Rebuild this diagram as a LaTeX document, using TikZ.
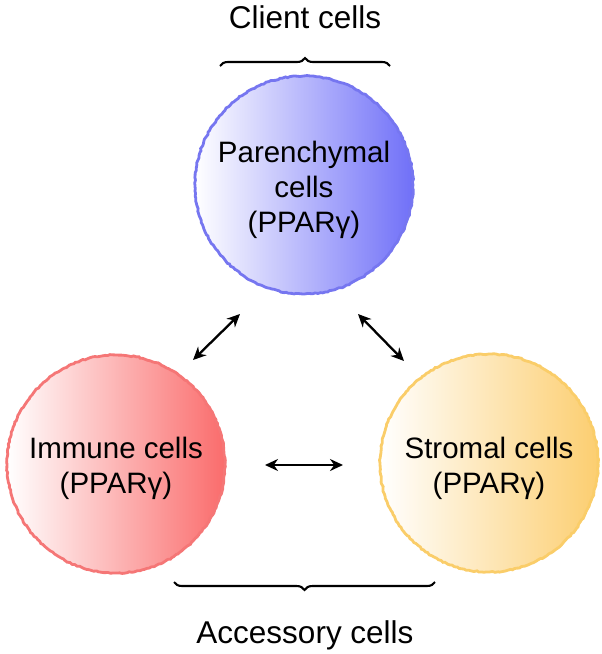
\documentclass[tikz,border=0pt]{standalone}
\usepackage{fontspec}
\setmainfont{Liberation Sans}
\usetikzlibrary{arrows.meta,decorations.pathreplacing,decorations.pathmorphing,shadings}
\definecolor{bluefill}{RGB}{112,112,248}
\definecolor{blueedge}{RGB}{118,118,240}
\definecolor{redfill}{RGB}{250,108,108}
\definecolor{rededge}{RGB}{245,118,118}
\definecolor{yelfill}{RGB}{252,206,112}
\definecolor{yeledge}{RGB}{250,205,105}
\tikzset{
  cell/.style={circle, minimum size=218pt, inner sep=0pt},
  rim/.style={decorate, decoration={random steps, segment length=2.5pt, amplitude=0.6pt}, line width=2.8pt},
  ctext/.style={align=center, inner sep=0pt, font=\fontsize{29.5}{35}\selectfont},
  lbl/.style={font=\fontsize{31.5}{36}\selectfont, inner sep=0pt, anchor=base},
  dbl/.style={{Stealth[length=13pt,width=12pt]}-{Stealth[length=13pt,width=12pt]}, line width=2.3pt},
  brk/.style={decorate, decoration={brace, amplitude=8pt}, line width=2.1pt}
}
\begin{document}
\begin{tikzpicture}[x=1pt,y=-1pt]
\useasboundingbox (0,0) rectangle (602,654);
\node[cell, left color=white, right color=bluefill] (top) at (304,185) {};
\node[cell, left color=white, right color=redfill] (left) at (116,464) {};
\node[cell, left color=white, right color=yelfill] (right) at (489,463) {};
\draw[rim, blueedge] (top.center) circle[radius=109];
\draw[rim, rededge] (left.center) circle[radius=109];
\draw[rim, yeledge] (right.center) circle[radius=109];
\node[ctext] (toptext) at (304,190) {Parenchymal\\cells\\(PPARγ)};
\node[ctext] (lefttext) at (116,468) {Immune cells\\(PPARγ)};
\node[ctext] (righttext) at (489,468) {Stromal cells\\(PPARγ)};
\node[lbl] (client) at (305,28) {Client cells};
\node[lbl] (acc) at (305,643) {Accessory cells};
\coordinate (b1) at (220,66);
\coordinate (b2) at (390,66);
\coordinate (c1) at (435,582);
\coordinate (c2) at (174,582);
\draw[brk] (b1) -- (b2);
\draw[brk] (c1) -- (c2);
\coordinate (a1) at (240,314);
\coordinate (a2) at (193,360);
\coordinate (a3) at (358,314);
\coordinate (a4) at (404,361);
\coordinate (a5) at (265,465);
\coordinate (a6) at (343,465);
\draw[dbl] (a1) -- (a2);
\draw[dbl] (a3) -- (a4);
\draw[dbl] (a5) -- (a6);
\end{tikzpicture}
\end{document}
